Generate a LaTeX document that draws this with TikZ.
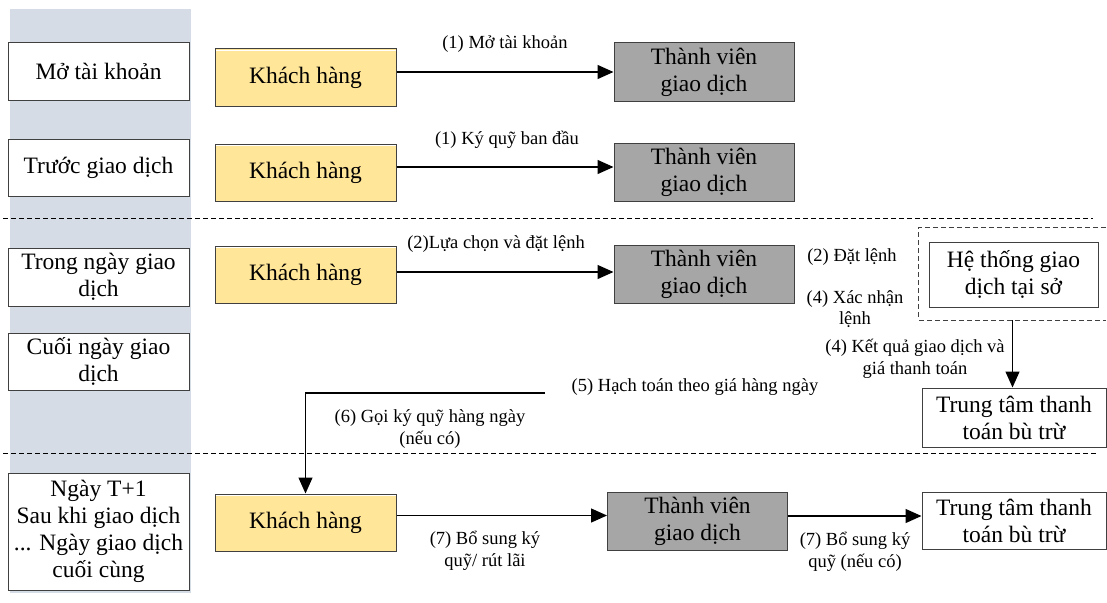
\documentclass[tikz,border=0pt]{standalone}
\usepackage{fontspec}
\setmainfont{Liberation Serif}
\usetikzlibrary{arrows.meta,calc}
\definecolor{band}{HTML}{D6DCE5}
\definecolor{khfill}{HTML}{FFE699}
\definecolor{tvfill}{HTML}{A6A6A6}
\definecolor{edgec}{HTML}{404040}
\begin{document}
\begin{tikzpicture}[x=1pt,y=-1pt,
  box/.style={draw=edgec, line width=1pt, inner sep=0pt, align=center, font=\fontsize{23.5}{27}\selectfont},
  phase/.style={box, fill=white, minimum width=181pt},
  kh/.style={box, fill=khfill, minimum width=181pt, minimum height=57pt},
  tv/.style={box, fill=tvfill, minimum width=180pt, minimum height=58pt},
  wbox/.style={box, fill=white},
  lbl/.style={align=center, inner sep=0pt, font=\fontsize{18.5}{21.5}\selectfont},
  arr/.style={line width=1.3pt, -{Triangle[length=16pt,width=14pt]}},
  sepline/.style={line width=1pt, dash pattern=on 5pt off 3pt}]
\useasboundingbox (0,0) rectangle (1107,602);
\fill[band] (10,9) rectangle (191,593);
% separators
\draw[sepline] (3,218) -- (1093,218);
\draw[sepline] (3,453) -- (1098,453);
% phase boxes
\node[phase, minimum height=57pt] (p1) at (98.5,71.5) {Mở tài khoản};
\node[phase, minimum height=57pt] (p2) at (98.5,167.5) {Trước giao dịch};
\node[phase, minimum height=58pt] (p3) at (98.5,277) {Trong ngày giao\\dịch};
\node[phase, minimum height=57pt] (p4) at (98.5,361.5) {Cuối ngày giao\\dịch};
\node[phase, minimum height=117pt] (p5) at (98.5,531.5) {Ngày T+1\\Sau khi giao dịch\\... Ngày giao dịch\\cuối cùng};
% customers
\node[kh] (kh1) at (305.5,77.5) {Khách hàng};
\node[kh] (kh2) at (305.5,172.5) {Khách hàng};
\node[kh] (kh3) at (305.5,274.5) {Khách hàng};
\node[kh] (kh4) at (305.5,522.5) {Khách hàng};
\foreach \k in {kh1,kh2,kh3,kh4}
  \draw[white, line width=0.9pt] ($(\k.north west)+(1,2)$) -- ($(\k.north east)+(-1,2)$);
% members
\node[tv] (tv1) at (704,72) {Thành viên\\giao dịch};
\node[tv] (tv2) at (704,172) {Thành viên\\giao dịch};
\node[tv] (tv3) at (704,274.5) {Thành viên\\giao dịch};
\node[tv] (tv4) at (697.5,521) {Thành viên\\giao dịch};
% exchange system (dashed frame, cut off at the right edge)
\node[minimum width=187pt, minimum height=92pt, inner sep=0pt] (hebox) at (1012.5,274) {};
\draw[edgec, sepline] (hebox.north east) -- (hebox.north west) -- (hebox.south west) -- (hebox.south east);
\node[wbox, minimum width=169pt, minimum height=65pt] (he) at (1013.5,274.5) {Hệ thống giao\\dịch tại sở};
% clearing centers
\node[wbox, minimum width=184pt, minimum height=59pt] (ttm) at (1014,417.5) {Trung tâm thanh\\toán bù trừ};
\node[wbox, minimum width=184pt, minimum height=57pt] (ttb) at (1014,520.5) {Trung tâm thanh\\toán bù trừ};
% connectors
\draw[arr] ($(kh1.east)+(0,-5.5)$) -- ($(kh1.east -| tv1.west)+(0,-5.5)$);
\draw[arr] ($(kh2.east)+(0,-5.5)$) -- ($(kh2.east -| tv2.west)+(0,-5.5)$);
\draw[arr] ($(kh3.east)+(0,-2.5)$) -- ($(kh3.east -| tv3.west)+(0,-2.5)$);
\draw[arr] ($(kh4.east)+(0,-7)$) -- ($(kh4.east -| tv4.west)+(0,-7)$);
\draw[arr] ($(tv4.east)+(0,-5)$) -- ($(tv4.east -| ttb.west)+(0,-5)$);
\draw[arr] (hebox.south) -- (hebox.south |- ttm.north);
\coordinate (c5) at (545,393);
\draw[arr] (c5) -| (kh4.north);
% labels
\node[lbl] (l1) at (505,44) {(1) Mở tài khoản};
\node[lbl] (l2) at (507,140) {(1) Ký quỹ ban đầu};
\node[lbl] (l3) at (496,244) {(2)Lựa chọn và đặt lệnh};
\node[lbl] (l4) at (852,257) {(2) Đặt lệnh};
\node[lbl] (l5) at (855,309) {(4) Xác nhận\\lệnh};
\node[lbl] (l6) at (915,359) {(4) Kết quả giao dịch và\\giá thanh toán};
\node[lbl] (l7) at (695,387) {(5) Hạch toán theo giá hàng ngày};
\node[lbl] (l8) at (430,429) {(6) Gọi ký quỹ hàng ngày\\(nếu có)};
\node[lbl] (l9) at (485,551) {(7) Bổ sung ký\\quỹ/ rút lãi};
\node[lbl] (l10) at (855,552) {(7) Bổ sung ký\\quỹ (nếu có)};
\end{tikzpicture}
\end{document}
